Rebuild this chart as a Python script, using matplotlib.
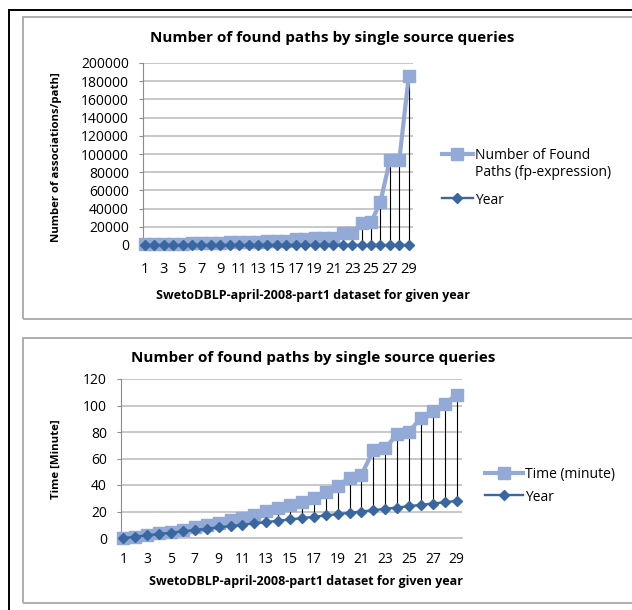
import matplotlib
matplotlib.use('Agg')
import matplotlib.pyplot as plt
from matplotlib.patches import Rectangle
from matplotlib.lines import Line2D

plt.rcParams['font.family'] = ['Open Sans', 'DejaVu Sans']

# categories (query number for a given year) 1..29
queries = [1, 2, 3, 4, 5, 6, 7, 8, 9, 10, 11, 12, 13, 14, 15, 16, 17, 18, 19, 20,
           21, 22, 23, 24, 25, 26, 27, 28, 29]
year = [0, 1, 2, 3, 4, 5, 6, 7, 8, 9, 10, 11, 12, 13, 14, 15, 16, 17, 18, 19,
        20, 21, 22, 23, 24, 25, 26, 27, 28]
found_paths = [900, 1000, 1100, 1500, 1600, 1700, 2500, 2600, 2700, 2800,
               3600, 3700, 3800, 3900, 4000, 4100, 7000, 7100, 7200, 7300,
               7400, 13000, 13300, 24500, 24800, 47500, 93500, 93800, 185500]
time_minutes = [0, 1, 2.2, 3.4, 4.8, 6.3, 8.3, 9.8, 11.5, 13.3, 15.2, 17, 20.2,
                22.3, 24.8, 27.5, 30.4, 34.4, 39.5, 45.2, 47.6, 66.2, 67.8,
                78.2, 80.3, 90.6, 96, 101, 108.3]

title = 'Number of found paths by single source queries'
xlabel = 'SwetoDBLP-april-2008-part1 dataset for given year'

light = '#93aad6'
dark = '#3a679f'
grid = '#c4c4c4'
axis_gray = '#8c8c8c'

W, H = 632, 610
fig = plt.figure(figsize=(W / 100, H / 100), dpi=100)


def px_axes(left, top, right, bottom):
    return fig.add_axes([left / W, 1 - bottom / H, (right - left) / W, (bottom - top) / H])


def style(ax, ymax, step, xsize, xpad):
    ax.set_xlim(0.8, 29.45)
    ax.set_ylim(0, ymax)
    ax.set_yticks(range(0, ymax + 1, step))
    ax.set_xticks(queries[::2])
    ax.set_xticklabels([str(q) for q in queries[::2]])
    ax.yaxis.grid(True, color=grid, lw=1.3)
    ax.set_axisbelow(True)
    for s in ['top', 'right']:
        ax.spines[s].set_visible(False)
    ax.spines['left'].set_color(axis_gray)
    ax.spines['bottom'].set_color(grid)
    ax.spines['bottom'].set_linewidth(1.3)
    ax.tick_params(axis='y', direction='out', length=3, color=axis_gray, labelsize=10, pad=7)
    ax.tick_params(axis='x', length=0, labelsize=xsize, pad=xpad)


def draw(ax, values, label, handlelen, spacing, anchor):
    # high-low lines between the two series
    ax.vlines(queries, year, values, color='black', lw=0.8, zorder=2)
    ax.plot(queries, values, color=light, lw=3, marker='s', ms=8.5,
            mec=light, mfc=light, label=label, zorder=3, clip_on=False)
    ax.plot(queries, year, color=dark, lw=1.7, marker='D', ms=5,
            mec=dark, mfc=dark, label='Year', zorder=4, clip_on=False)
    leg = ax.legend(loc='upper left', bbox_to_anchor=(anchor[0] / W, 1 - anchor[1] / H),
                    bbox_transform=fig.transFigure, frameon=False, fontsize=10,
                    handlelength=handlelen, handleheight=1.15, handletextpad=0.2,
                    labelspacing=spacing, borderpad=0, borderaxespad=0)
    # keep the handle level with the first line of a two-line label
    for column in leg._legend_handle_box.get_children():
        for item in column.get_children():
            item.align = 'top'


# frames around the two charts
fig.add_artist(Line2D([9 / W, 9 / W], [0, 1 - 10 / H], transform=fig.transFigure, color='black', lw=1.4))
fig.add_artist(Line2D([9 / W, 1], [1 - 10 / H, 1 - 10 / H], transform=fig.transFigure, color='black', lw=1.4))
fig.add_artist(Rectangle((23 / W, 1 - 319 / H), 1, (319 - 17) / H, transform=fig.transFigure,
                         fill=False, ec='#a8a8a8', lw=1.3))
fig.add_artist(Rectangle((23 / W, 1 - 603 / H), 1, (603 - 338) / H, transform=fig.transFigure,
                         fill=False, ec='#a8a8a8', lw=1.3))

# top chart: number of found paths
ax1 = px_axes(143, 63, 413, 245)
style(ax1, 200000, 20000, 10.5, 12)
draw(ax1, found_paths, 'Number of Found\nPaths (fp-expression)', 2.2, 0.9, (442, 148))
fig.text(332 / W, 1 - 38 / H, title, ha='center', va='center', fontsize=11, fontweight='bold')
fig.text(313 / W, 1 - 295 / H, xlabel, ha='center', va='center', fontsize=9, fontweight='bold')
fig.text(57 / W, 1 - 157 / H, 'Number of associations/path]', ha='center', va='center',
         rotation=90, fontsize=8.2, fontweight='bold')

# bottom chart: time in minutes
ax2 = px_axes(121, 379, 462, 538)
style(ax2, 120, 20, 10, 10)
draw(ax2, time_minutes, 'Time (minute)', 2.7, 0.55, (485, 467))
fig.text(313 / W, 1 - 358 / H, title, ha='center', va='center', fontsize=11, fontweight='bold')
fig.text(306 / W, 1 - 582 / H, xlabel, ha='center', va='center', fontsize=9, fontweight='bold')
fig.text(56 / W, 1 - 459 / H, 'Time [Minute]', ha='center', va='center',
         rotation=90, fontsize=8.2, fontweight='bold')

fig.savefig('out.png', dpi=100, facecolor='white')
